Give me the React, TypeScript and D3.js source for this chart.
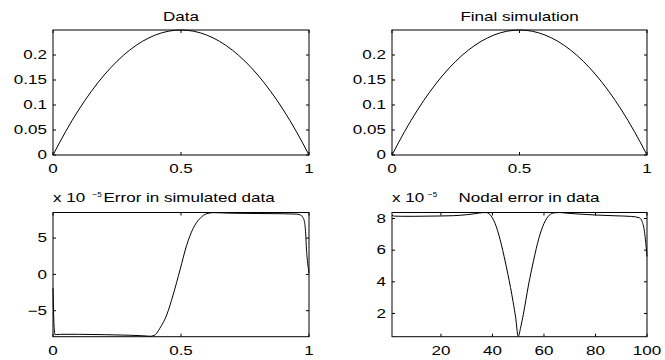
import React from "react";
import * as d3 from "d3";

// ---- data ----
const profileX = [0, 0.05, 0.1, 0.15, 0.2, 0.25, 0.3, 0.35, 0.4, 0.45, 0.5, 0.55, 0.6, 0.65, 0.7, 0.75, 0.8, 0.85, 0.9, 0.95, 1];
const dataY = [0, 0.0475, 0.09, 0.1275, 0.16, 0.1875, 0.21, 0.2275, 0.24, 0.2475, 0.25, 0.2475, 0.24, 0.2275, 0.21, 0.1875, 0.16, 0.1275, 0.09, 0.0475, 0];
const simY = [0, 0.0475, 0.09, 0.1275, 0.16, 0.1875, 0.21, 0.2275, 0.24, 0.2475, 0.25, 0.2475, 0.24, 0.2275, 0.21, 0.1875, 0.16, 0.1275, 0.09, 0.0475, 0];

const errX = [0, 0.004, 0.008, 0.015, 0.03, 0.1, 0.2, 0.3, 0.35, 0.37, 0.38, 0.39, 0.4, 0.417, 0.444, 0.469, 0.496, 0.522, 0.547, 0.574, 0.6, 0.625, 0.65, 0.7, 0.8, 0.9, 0.95, 0.965, 0.975, 0.982, 0.987, 0.99, 0.995, 1];
const errY = [-1.9, -7.0, -8.3, -8.28, -8.25, -8.25, -8.3, -8.38, -8.45, -8.5, -8.52, -8.45, -8.3, -7.44, -5.6, -2.85, 0.6, 4.0, 6.3, 7.7, 8.35, 8.5, 8.48, 8.42, 8.38, 8.35, 8.3, 8.2, 7.9, 7.3, 5.6, 3.5, 1.5, 0.2];

const nodeX = [1, 2, 5, 10, 15, 20, 25, 30, 33, 36, 37.5, 39, 41, 43, 45, 47, 48, 49, 50, 51, 52, 54, 56, 58, 60, 62, 64, 66, 68, 72, 80, 88, 94, 97, 98, 99, 100];
const nodeY = [8.2, 8.15, 8.14, 8.14, 8.15, 8.16, 8.18, 8.24, 8.3, 8.37, 8.38, 8.25, 7.7, 6.65, 5.25, 3.65, 2.75, 1.75, 0.55, 1.15, 1.95, 3.8, 5.37, 6.74, 7.68, 8.2, 8.36, 8.38, 8.35, 8.3, 8.22, 8.17, 8.13, 8.05, 7.85, 7.2, 5.6];

const profileXTicks = [0, 0.5, 1];
const profileYTicks = [0, 0.05, 0.1, 0.15, 0.2];
const errYTicks = [-5, 0, 5];
const nodeXTicks = [20, 40, 60, 80, 100];
const nodeYTicks = [2, 4, 6, 8];

const FONT = "'Liberation Sans', Arial, Helvetica, sans-serif";
const FS = 12;
const SX = 1.42;

function Label({ x, y, anchor = "middle", children, size = FS, sx = SX }: any) {
  return (
    <text
      transform={`translate(${x},${y}) scale(${sx},1)`}
      textAnchor={anchor}
      fontFamily={FONT}
      fontSize={size}
      fill="#000"
    >
      {children}
    </text>
  );
}

const fmt = (v: number) => {
  const s = String(v);
  return s.startsWith("-") ? "\u2212" + s.slice(1) : s;
};

function Panel({ box, xDomain, yDomain, xTicks, yTicks, xs, ys }: any) {
  const [L, R, T, B] = box;
  const x = d3.scaleLinear().domain(xDomain).range([L, R]);
  const y = d3.scaleLinear().domain(yDomain).range([B, T]);
  const line = d3
    .line<number>()
    .x((_, i) => x(xs[i]))
    .y((d) => y(d))
    .curve(d3.curveMonotoneX);
  const tl = 3;
  return (
    <g>
      <path d={line(ys) || ""} fill="none" stroke="#000" strokeWidth={1} />
      <rect x={L} y={T} width={R - L} height={B - T} fill="none" stroke="#000" strokeWidth={1} />
      {xTicks.map((t: number) => (
        <g key={"x" + t}>
          <line x1={x(t)} x2={x(t)} y1={B} y2={B - tl} stroke="#000" />
          <line x1={x(t)} x2={x(t)} y1={T} y2={T + tl} stroke="#000" />
          <Label x={x(t)} y={B + 18}>{fmt(t)}</Label>
        </g>
      ))}
      {yTicks.map((t: number) => (
        <g key={"y" + t}>
          <line x1={L} x2={L + tl} y1={y(t)} y2={y(t)} stroke="#000" />
          <line x1={R} x2={R - tl} y1={y(t)} y2={y(t)} stroke="#000" />
          <Label x={L - 6} y={y(t) + 4.3} anchor="end">{fmt(t)}</Label>
        </g>
      ))}
    </g>
  );
}

export default function App() {
  return (
    <svg
      width={665}
      height={360}
      style={{ position: "absolute", left: 0, top: 0, background: "#fff" }}
    >
      <rect width={665} height={360} fill="#fff" />
      <Panel box={[53, 309, 30, 155]} xDomain={[0, 1]} yDomain={[0, 0.25]} xTicks={profileXTicks} yTicks={profileYTicks} xs={profileX} ys={dataY} />
      <Label x={181} y={21}>Data</Label>

      <Panel box={[392, 647, 30, 155]} xDomain={[0, 1]} yDomain={[0, 0.25]} xTicks={profileXTicks} yTicks={profileYTicks} xs={profileX} ys={simY} />
      <Label x={519.5} y={21}>Final simulation</Label>

      <Panel box={[53, 309, 212.5, 336.7]} xDomain={[0, 1]} yDomain={[-8.58, 8.52]} xTicks={profileXTicks} yTicks={errYTicks} xs={errX} ys={errY} />
      <Label x={53} y={202} anchor="start">x 10</Label>
      <Label x={92.5} y={197} anchor="start" size={8} sx={1.0}>{"\u22125"}</Label>
      <Label x={103.5} y={202} anchor="start">Error in simulated data</Label>

      <Panel box={[392, 647, 212.5, 336.7]} xDomain={[1, 100]} yDomain={[0.53, 8.38]} xTicks={nodeXTicks} yTicks={nodeYTicks} xs={nodeX} ys={nodeY} />
      <Label x={392} y={202} anchor="start">x 10</Label>
      <Label x={428} y={197} anchor="start" size={8} sx={1.0}>{"\u22125"}</Label>
      <Label x={458.5} y={202} anchor="start">Nodal error in data</Label>
    </svg>
  );
}
